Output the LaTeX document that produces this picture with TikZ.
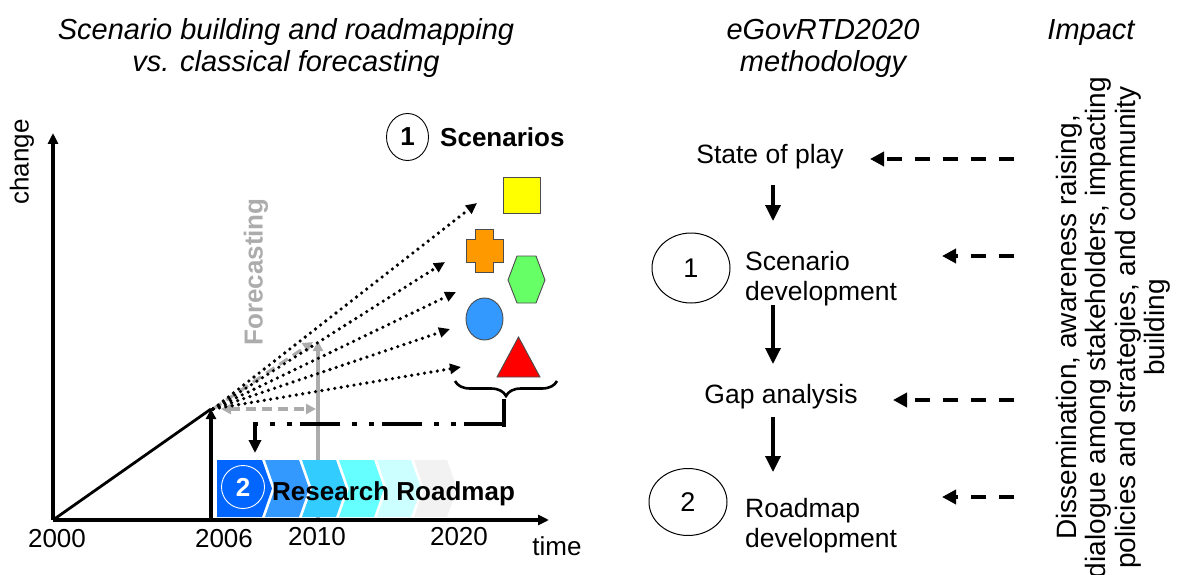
\documentclass[tikz,border=0pt]{standalone}
\usepackage{fontspec}
\setmainfont{Liberation Sans}
\usetikzlibrary{arrows.meta,decorations.pathreplacing,shapes.geometric}
\definecolor{chA}{RGB}{0,102,255}
\definecolor{chB}{RGB}{51,153,255}
\definecolor{chC}{RGB}{51,204,255}
\definecolor{chD}{RGB}{102,255,255}
\definecolor{chE}{RGB}{204,255,255}
\definecolor{chF}{RGB}{242,242,242}
\definecolor{fgray}{RGB}{172,172,172}
\definecolor{shyel}{RGB}{255,255,0}
\definecolor{shorg}{RGB}{255,153,0}
\definecolor{shgrn}{RGB}{102,255,102}
\definecolor{shblu}{RGB}{51,153,255}
\definecolor{shred}{RGB}{255,0,0}
\tikzset{
  hdr/.style={font=\fontsize{29}{33}\selectfont\itshape, inner sep=0pt, anchor=base},
  lbl/.style={font=\fontsize{26}{30}\selectfont, inner sep=0pt},
  rtxt/.style={font=\fontsize{26.5}{30}\selectfont, inner sep=0pt},
  bld/.style={font=\fontsize{26}{30}\selectfont\bfseries, inner sep=0pt},
  axisarrow/.style={line width=3.6pt, -{Triangle[length=11pt,width=10pt]}},
  dotarrow/.style={line width=3.6pt, line cap=round, dash pattern=on 0pt off 6.5pt, -{Triangle[length=11pt,width=10pt]}},
  grayarrow/.style={draw=fgray, line width=3.2pt, -{Triangle[length=10pt,width=10pt]}},
  graydash/.style={draw=fgray, line width=3.2pt, dash pattern=on 10pt off 6pt},
  downarrow/.style={line width=3.4pt, -{Triangle[length=16pt,width=15pt]}},
  impactarrow/.style={line width=3.8pt, dash pattern=on 15pt off 13pt, -{Triangle[length=14pt,width=14pt]}},
  numcircle/.style={ellipse, draw, line width=1pt, inner sep=0pt},
  shapeline/.style={draw=black!70, line width=0.9pt},
}
\begin{document}
\begin{tikzpicture}[x=1pt,y=-1pt]
\useasboundingbox (0,0) rectangle (1181,575);

% ---------- headers ----------
\node[hdr] (h1a) at (286,40) {Scenario building and roadmapping};
\node[hdr] (h1b) at (286,72) {vs. classical forecasting};
\node[hdr] (h2a) at (823,40) {eGovRTD2020};
\node[hdr] (h2b) at (823,72) {methodology};
\node[hdr] (h3) at (1091,40) {Impact};

% ---------- chart coordinates ----------
\coordinate (O) at (53,520);
\coordinate (ytop) at (53,133);
\coordinate (xend) at (549,520);
\coordinate (b06) at (211,520);
\coordinate (p06) at (211,409);
\coordinate (src) at (213,409);
\coordinate (b10) at (318,520);
\coordinate (t10) at (318,341);
\coordinate (fc) at (313,342);
\coordinate (hl) at (221,409);
\coordinate (hr) at (316,409);

% gray forecasting elements (behind)
\draw[grayarrow] (b10) -- (t10);
\draw[graydash, {Triangle[length=10pt,width=10pt]}-{Triangle[length=10pt,width=10pt]}] (hl) -- (hr);
\draw[graydash, -{Triangle[length=10pt,width=10pt]}] (src) -- (fc);
\node[font=\fontsize{26}{30}\selectfont\bfseries, text=fgray, rotate=90, inner sep=0pt] (fcast) at (256,272) {Forecasting};

% axes
\draw[axisarrow] (O) -- (ytop);
\draw[axisarrow] (O) -- (xend);
\draw[line width=2.8pt] (O) -- (p06);
\draw[line width=3.2pt, -{Triangle[length=10pt,width=10pt]}] (b06) -- (p06);

\node[lbl, rotate=90] (chg) at (22,162) {change};
\node[lbl] (y2000) at (57,539) {2000};
\node[lbl] (y2006) at (224,539) {2006};
\node[lbl] (y2010) at (317,537) {2010};
\node[lbl] (y2020) at (459,537) {2020};
\node[lbl] (ytime) at (557,546) {time};

% ---------- chevrons ----------
\fill[chA] (217,460) -- (262,460) -- (272,488.5) -- (262,517) -- (217,517) -- cycle;
\fill[chB] (265,460) -- (299,460) -- (309,488.5) -- (299,517) -- (265,517) -- (275,488.5) -- cycle;
\fill[chC] (302,460) -- (336,460) -- (346,488.5) -- (336,517) -- (302,517) -- (312,488.5) -- cycle;
\fill[chD] (339,460) -- (374,460) -- (384,488.5) -- (374,517) -- (339,517) -- (349,488.5) -- cycle;
\fill[chE] (377,460) -- (411,460) -- (421,488.5) -- (411,517) -- (377,517) -- (387,488.5) -- cycle;
\fill[chF] (414,460) -- (447,460) -- (457,488.5) -- (447,517) -- (414,517) -- (424,488.5) -- cycle;
\node[circle, draw=white, line width=0.9pt, minimum size=43pt, inner sep=0pt, text=white, font=\fontsize{26}{30}\selectfont\bfseries] (c2l) at (243,487) {2};
\node[bld, anchor=base west] (rr) at (272,500) {Research Roadmap};

% ---------- scenarios ----------
\node[numcircle, line width=0.9pt, minimum width=42pt, minimum height=47pt, font=\fontsize{26}{30}\selectfont\bfseries] (c1l) at (407.5,137) {1};
\node[bld, anchor=west] (scen) at (440,137) {Scenarios};

\filldraw[fill=shyel, shapeline] (503,177) rectangle (540,213);
\filldraw[fill=shorg, shapeline] (475,229) -- (493,229) -- (493,239) -- (503,239) -- (503,262) -- (493,262) -- (493,272) -- (475,272) -- (475,262) -- (466,262) -- (466,239) -- (475,239) -- cycle;
\filldraw[fill=shgrn, shapeline] (508,280) -- (517,256) -- (536,256) -- (545,280) -- (536,303) -- (517,303) -- cycle;
\filldraw[fill=shblu, shapeline] (484.5,319) ellipse [x radius=18.5, y radius=21];
\filldraw[fill=shred, shapeline] (518.5,337) -- (540,377) -- (497,377) -- cycle;

% dotted arrows
\coordinate (d1) at (477,203);
\coordinate (d2) at (445,262);
\coordinate (d3) at (456,292);
\coordinate (d4) at (450,329);
\coordinate (d5) at (461,367);
\foreach \e in {d1,d2,d3,d4,d5} \draw[dotarrow] (src) -- (\e);

% brace and dash-dot link
\coordinate (brL) at (455,381);
\coordinate (brR) at (557,381);
\draw[line width=2.6pt, decorate, decoration={brace, mirror, amplitude=15pt}] (brL) -- (brR);
\coordinate (btip) at (504,399);
\coordinate (cR) at (504,424);
\coordinate (cRb) at (504,426.5);
\coordinate (cL) at (255,424);
\coordinate (aT) at (255,453);
\draw[line width=4pt] (btip) -- (cRb);
\draw[line width=4.5pt, dash pattern=on 40pt off 8pt on 5pt off 12pt on 5pt off 12pt] (cR) -- (cL);
\draw[line width=3.6pt, -{Triangle[length=13pt,width=12pt]}] (255,422) -- (aT);

% ---------- methodology column ----------
\node[rtxt] (sop) at (770,157) {State of play};
\node[numcircle, minimum width=78pt, minimum height=70pt, font=\fontsize{27}{30}\selectfont] (m1) at (691,268) {1};
\node[rtxt, align=left, anchor=west] (sdev) at (745,279) {Scenario\\development};
\node[rtxt] (gap) at (781,397) {Gap analysis};
\node[numcircle, minimum width=78pt, minimum height=67pt, font=\fontsize{27}{30}\selectfont] (m2) at (688,502) {2};
\node[rtxt, align=left, anchor=west] (rdev) at (745,526) {Roadmap\\development};

\draw[downarrow] (773,185) -- (773,221);
\draw[downarrow] (773,305) -- (773,364);
\draw[downarrow] (773,417) -- (773,472);

% ---------- impact ----------
\coordinate (i1s) at (1014,159); \coordinate (i1e) at (870,159);
\coordinate (i2s) at (1014,256); \coordinate (i2e) at (942,256);
\coordinate (i3s) at (1014,400); \coordinate (i3e) at (893,400);
\coordinate (i4s) at (1014,497); \coordinate (i4e) at (942,497);
\draw[impactarrow] (i1s) -- (i1e);
\draw[impactarrow] (i2s) -- (i2e);
\draw[impactarrow] (i3s) -- (i3e);
\draw[impactarrow] (i4s) -- (i4e);

\node[font=\fontsize{28}{29.5}\selectfont, align=center, rotate=90, inner sep=0pt] (imp) at (1113,327.5)
  {Dissemination, awareness raising,\\dialogue among stakeholders, impacting\\policies and strategies, and community\\building};
\end{tikzpicture}
\end{document}
